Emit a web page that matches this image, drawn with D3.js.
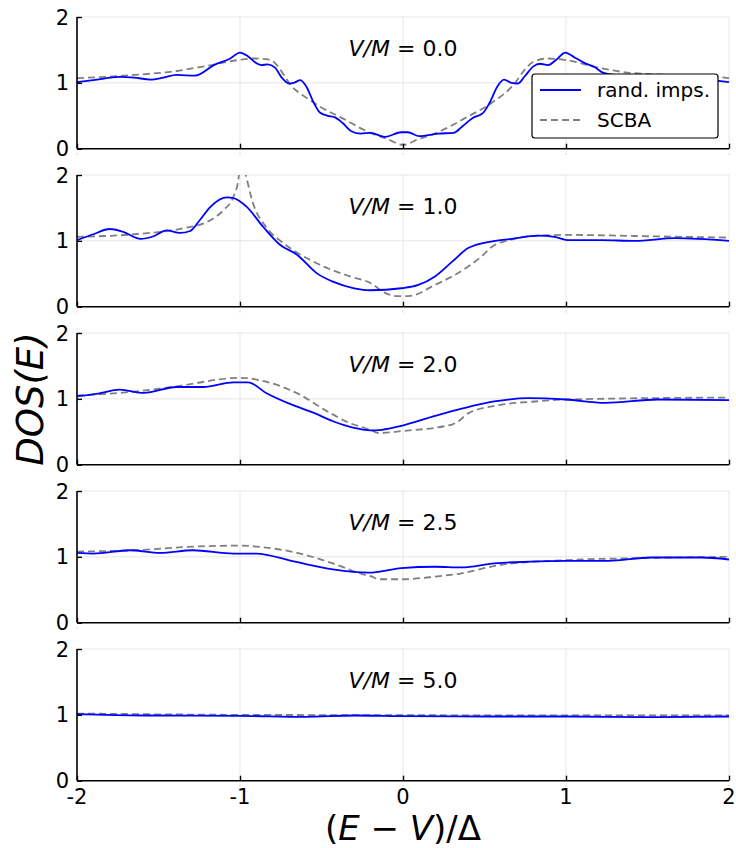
<!DOCTYPE html>
<html>
<head>
<meta charset="utf-8">
<script src="https://cdn.jsdelivr.net/npm/d3@7"></script>
<style>
  body { margin: 0; background: #fff; }
  svg { display: block; font-family: "DejaVu Sans", sans-serif; }
</style>
</head>
<body>
<svg></svg>
<script>
var xTicks = [-2, -1, 0, 1, 2]
var yTicks = [0, 1, 2]
var vmLabels = ["0.0", "1.0", "2.0", "2.5", "5.0"]
var seriesNames = ["rand. imps.", "SCBA"]

// [E, DOS] pairs
var rand0 = [[-2,1.01],[-1.9,1.04],[-1.736,1.09],[-1.65,1.08],[-1.55,1.05],[-1.47,1.08],[-1.39,1.12],[-1.275,1.11],[-1.16,1.27],[-1.06,1.37],[-1.0,1.46],[-0.95,1.40],[-0.9,1.30],[-0.87,1.27],[-0.83,1.28],[-0.785,1.23],[-0.744,1.08],[-0.70,0.99],[-0.67,1.0],[-0.63,1.04],[-0.59,0.93],[-0.55,0.71],[-0.51,0.55],[-0.46,0.50],[-0.42,0.48],[-0.37,0.39],[-0.32,0.27],[-0.26,0.23],[-0.20,0.24],[-0.11,0.18],[-0.01,0.25],[0.03,0.25],[0.10,0.19],[0.215,0.23],[0.31,0.24],[0.36,0.33],[0.43,0.47],[0.49,0.54],[0.53,0.69],[0.58,0.95],[0.62,1.05],[0.665,1.0],[0.705,0.99],[0.747,1.10],[0.80,1.25],[0.84,1.29],[0.89,1.27],[0.94,1.35],[0.996,1.46],[1.05,1.39],[1.115,1.30],[1.175,1.24],[1.23,1.15],[1.3,1.12],[1.4,1.11],[1.55,1.05],[1.74,1.09],[1.9,1.04],[2,1.01]]
var scba0 = [[-2,1.07],[-1.65,1.12],[-1.39,1.18],[-1.20,1.26],[-1.0,1.35],[-0.92,1.37],[-0.84,1.36],[-0.785,1.30],[-0.744,1.17],[-0.69,0.97],[-0.59,0.77],[-0.51,0.64],[-0.37,0.46],[-0.20,0.24],[-0.1,0.15],[0,0.06],[0.1,0.15],[0.195,0.23],[0.40,0.49],[0.54,0.69],[0.685,0.99],[0.747,1.20],[0.80,1.32],[0.89,1.37],[0.99,1.35],[1.22,1.22],[1.4,1.15],[1.65,1.12],[1.93,1.09],[2,1.07]]

var rand1 = [[-2,1.01],[-1.90,1.10],[-1.80,1.18],[-1.72,1.14],[-1.61,1.03],[-1.53,1.07],[-1.45,1.16],[-1.37,1.12],[-1.305,1.15],[-1.245,1.32],[-1.18,1.52],[-1.08,1.66],[-1.04,1.65],[-0.96,1.52],[-0.857,1.21],[-0.755,0.94],[-0.65,0.79],[-0.53,0.51],[-0.43,0.38],[-0.30,0.28],[-0.20,0.25],[-0.01,0.28],[0.094,0.33],[0.196,0.46],[0.30,0.68],[0.40,0.89],[0.54,0.99],[0.665,1.03],[0.83,1.08],[0.93,1.06],[1.01,1.01],[1.22,1.01],[1.42,1.0],[1.67,1.04],[2,1.0]]
var scba1 = [[-2,1.06],[-1.65,1.10],[-1.35,1.19],[-1.20,1.29],[-1.10,1.47],[-1.04,1.67],[-1.01,1.93],[-0.995,2.25],[-0.97,2.05],[-0.92,1.57],[-0.84,1.21],[-0.73,0.96],[-0.53,0.66],[-0.325,0.46],[-0.20,0.36],[-0.11,0.21],[-0.04,0.16],[0.03,0.16],[0.196,0.33],[0.40,0.61],[0.48,0.76],[0.54,0.90],[0.665,1.02],[0.83,1.08],[1.01,1.09],[1.5,1.07],[2,1.05]]

var rand2 = [[-2,1.04],[-1.87,1.08],[-1.74,1.14],[-1.59,1.09],[-1.39,1.18],[-1.225,1.18],[-1.04,1.25],[-0.95,1.25],[-0.84,1.09],[-0.67,0.90],[-0.55,0.79],[-0.43,0.66],[-0.30,0.56],[-0.20,0.52],[-0.13,0.53],[-0.01,0.59],[0.196,0.74],[0.36,0.85],[0.56,0.96],[0.77,1.01],[1.0,0.99],[1.24,0.94],[1.565,0.99],[2,0.98]]
var scba2 = [[-2,1.05],[-1.65,1.11],[-1.39,1.19],[-1.0,1.32],[-0.84,1.26],[-0.63,1.06],[-0.485,0.84],[-0.325,0.63],[-0.20,0.53],[-0.15,0.48],[-0.01,0.51],[0.30,0.61],[0.34,0.66],[0.40,0.78],[0.60,0.91],[0.81,0.96],[1.0,0.99],[2,1.02]]

var rand3 = [[-2,1.06],[-1.9,1.05],[-1.675,1.10],[-1.49,1.06],[-1.29,1.10],[-1.04,1.05],[-0.90,1.05],[-0.67,0.93],[-0.43,0.81],[-0.21,0.76],[-0.01,0.83],[0.196,0.85],[0.36,0.84],[0.56,0.90],[1.0,0.94],[1.26,0.94],[1.52,0.99],[1.83,0.99],[2,0.96]]
var scba3 = [[-2,1.08],[-1.65,1.10],[-1.245,1.16],[-1.0,1.17],[-0.84,1.14],[-0.63,1.05],[-0.43,0.90],[-0.225,0.72],[-0.19,0.70],[-0.15,0.66],[-0.01,0.66],[0.196,0.70],[0.36,0.75],[0.60,0.88],[1.0,0.95],[1.42,0.98],[2,1.0]]

var rand4 = [[-2,1.01],[-1.6,0.99],[-1.0,0.985],[-0.6,0.97],[-0.3,0.99],[0,0.98],[0.5,0.975],[1.0,0.975],[1.5,0.965],[2,0.975]]
var scba4 = [[-2,1.02],[-1,1.0],[0,0.995],[1,0.99],[2,0.99]]

var randSets = [rand0, rand1, rand2, rand3, rand4]
var scbaSets = [scba0, scba1, scba2, scba3, scba4]

var width = 736
var height = 848
var left = 77
var right = 729
var panelTop = 17
var panelStep = 158
var panelH = 131.7

var svg = d3.select('svg').attr('width', width).attr('height', height)

var x = d3.scaleLinear().domain([-2, 2]).range([left, right])

var line = d3.line()
  .x(function(d) { return x(d[0]) })
  .curve(d3.curveMonotoneX)

vmLabels.forEach(function(lab, i) {
  var top = panelTop + i * panelStep
  var y = d3.scaleLinear().domain([0, 2]).range([top + panelH, top])
  line.y(function(d) { return y(d[1]) })
  var g = svg.append('g')

  g.append('clipPath').attr('id', 'clip' + i)
    .append('rect')
    .attr('x', left).attr('y', top)
    .attr('width', right - left).attr('height', panelH)

  // grid
  g.selectAll('.vg').data(xTicks).enter().append('line')
    .attr('x1', function(d) { return x(d) }).attr('x2', function(d) { return x(d) })
    .attr('y1', top).attr('y2', top + panelH)
    .attr('stroke', '#e6e6e6').attr('stroke-width', 1)
  g.selectAll('.hg').data(yTicks).enter().append('line')
    .attr('x1', left).attr('x2', right)
    .attr('y1', function(d) { return y(d) }).attr('y2', function(d) { return y(d) })
    .attr('stroke', '#e6e6e6').attr('stroke-width', 1)

  // curves
  g.append('path').datum(scbaSets[i])
    .attr('d', line)
    .attr('clip-path', 'url(#clip' + i + ')')
    .attr('fill', 'none')
    .attr('stroke', '#808080')
    .attr('stroke-width', 1.8)
    .attr('stroke-dasharray', '7,4')
  g.append('path').datum(randSets[i])
    .attr('d', line)
    .attr('clip-path', 'url(#clip' + i + ')')
    .attr('fill', 'none')
    .attr('stroke', '#0000ff')
    .attr('stroke-width', 1.8)

  // axes
  var yAxis = d3.axisRight(y).tickValues(yTicks).tickSize(5).tickFormat('')
  var ya = g.append('g').attr('transform', 'translate(' + left + ',0)').call(yAxis)
  var xAxis = d3.axisTop(x).tickValues(xTicks).tickSize(5).tickFormat('')
  var xa = g.append('g').attr('transform', 'translate(0,' + (top + panelH) + ')').call(xAxis)
  ya.select('.domain').attr('d', 'M0,' + top + 'V' + (top + panelH))
  xa.select('.domain').attr('d', 'M' + left + ',0H' + right)
  g.selectAll('.domain').attr('stroke', '#000').attr('stroke-width', 1.6)
  g.selectAll('.tick line').attr('stroke', '#000').attr('stroke-width', 1.4)

  g.selectAll('.tdot').data(xTicks).enter().append('line')
    .attr('x1', function(d) { return x(d) }).attr('x2', function(d) { return x(d) })
    .attr('y1', top + panelH + 4).attr('y2', top + panelH + 6)
    .attr('stroke', '#d0d0d0').attr('stroke-width', 1)

  g.selectAll('.ylab').data(yTicks).enter().append('text')
    .attr('x', left - 8)
    .attr('y', function(d) { return y(d) })
    .attr('dy', '0.36em')
    .attr('text-anchor', 'end')
    .attr('font-size', 21)
    .text(function(d) { return d })

  var t = g.append('text')
    .attr('x', x(0))
    .attr('y', y(1.41))
    .attr('text-anchor', 'middle')
    .attr('font-size', 22)
  t.append('tspan').attr('font-style', 'italic').text('V/M')
  t.append('tspan').text(' = ' + lab)

  if (i === vmLabels.length - 1) {
    g.selectAll('.xlab').data(xTicks).enter().append('text')
      .attr('x', function(d) { return x(d) })
      .attr('y', top + panelH + 23)
      .attr('text-anchor', 'middle')
      .attr('font-size', 21)
      .text(function(d) { return d })
  }
})

// legend
var leg = svg.append('g')
leg.append('rect')
  .attr('x', 532).attr('y', 74).attr('width', 186).attr('height', 64).attr('rx', 3)
  .attr('fill', '#fff').attr('stroke', '#000').attr('stroke-width', 1.2)
leg.selectAll('.ll').data(seriesNames).enter().append('line')
  .attr('x1', 540).attr('x2', 581)
  .attr('y1', function(d, i) { return 90 + i * 30 })
  .attr('y2', function(d, i) { return 90 + i * 30 })
  .attr('stroke', function(d, i) { return i === 0 ? '#0000ff' : '#808080' })
  .attr('stroke-width', 1.8)
  .attr('stroke-dasharray', function(d, i) { return i === 0 ? null : '7,4' })
leg.selectAll('.lt').data(seriesNames).enter().append('text')
  .attr('x', 597)
  .attr('y', function(d, i) { return 90 + i * 30 })
  .attr('dy', '0.35em')
  .attr('font-size', 20)
  .text(function(d) { return d })

// axis titles
var xt = svg.append('text')
  .attr('x', x(0)).attr('y', 840)
  .attr('text-anchor', 'middle')
  .attr('font-size', 34)
xt.append('tspan').text('(')
xt.append('tspan').attr('font-style', 'italic').text('E')
xt.append('tspan').text(' − ')
xt.append('tspan').attr('font-style', 'italic').text('V')
xt.append('tspan').text(')/Δ')

svg.append('text')
  .attr('transform', 'translate(43,399) rotate(-90)')
  .attr('text-anchor', 'middle')
  .attr('font-size', 37)
  .attr('font-style', 'italic')
  .text('DOS(E)')
</script>
</body>
</html>
